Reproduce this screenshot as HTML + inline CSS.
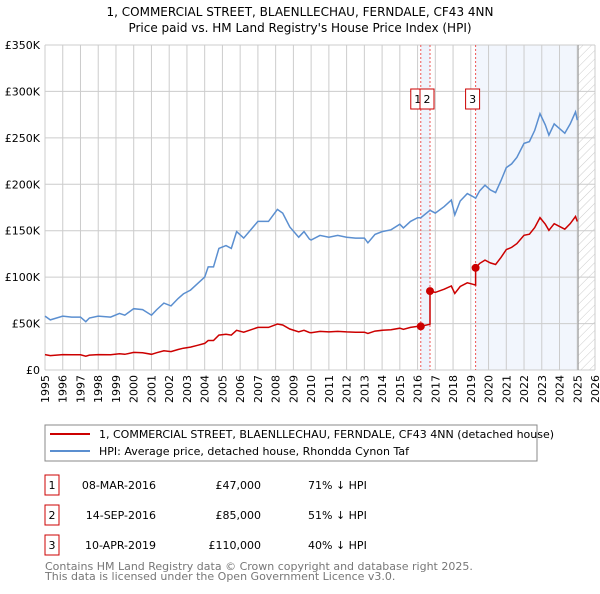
<!DOCTYPE html>
<html><head><meta charset="utf-8"><style>
body{margin:0;background:#fff;font-family:"DejaVu Sans","Liberation Sans",sans-serif;}
svg text{font-family:"DejaVu Sans","Liberation Sans",sans-serif;}
</style></head><body>
<svg id="c" width="600" height="590" viewBox="0 0 600 590" xmlns="http://www.w3.org/2000/svg">
<defs><pattern id="hatch" width="6" height="6" patternUnits="userSpaceOnUse" patternTransform="rotate(45)"><line x1="0" y1="0" x2="0" y2="6" stroke="#ccc" stroke-width="1"/></pattern></defs>
<text x="300" y="16" text-anchor="middle" font-size="12">1, COMMERCIAL STREET, BLAENLLECHAU, FERNDALE, CF43 4NN</text>
<text x="300" y="32" text-anchor="middle" font-size="12">Price paid vs. HM Land Registry's House Price Index (HPI)</text>
<g id="plot"></g>
<rect x="45" y="425" width="492" height="36" fill="#fff" stroke="#888"/>
<line x1="50" y1="434" x2="90" y2="434" stroke="#cc0000" stroke-width="2"/>
<text x="99" y="438" font-size="11">1, COMMERCIAL STREET, BLAENLLECHAU, FERNDALE, CF43 4NN (detached house)</text>
<line x1="50" y1="451" x2="90" y2="451" stroke="#5b8fd0" stroke-width="2"/>
<text x="99" y="455" font-size="11">HPI: Average price, detached house, Rhondda Cynon Taf</text>
<g id="tbl" font-size="11"></g>
<text x="45" y="570" font-size="11" fill="#777">Contains HM Land Registry data © Crown copyright and database right 2025.</text>
<text x="45" y="580" font-size="11" fill="#777">This data is licensed under the Open Government Licence v3.0.</text>
</svg>
<script>
const hpiYears=[1995.0,1995.3,1996,1996.5,1997,1997.3,1997.5,1998,1998.7,1999.2,1999.5,2000,2000.5,2001,2001.3,2001.7,2002.1,2002.5,2002.8,2003.2,2003.6,2004,2004.2,2004.5,2004.8,2005.2,2005.5,2005.8,2006.2,2006.6,2007,2007.6,2008.1,2008.4,2008.8,2009.3,2009.6,2009.9,2010,2010.5,2011,2011.5,2012,2012.5,2013,2013.2,2013.6,2014,2014.5,2015,2015.2,2015.6,2016,2016.18,2016.7,2017,2017.5,2017.9,2018.1,2018.4,2018.8,2019.1,2019.27,2019.5,2019.8,2020.1,2020.4,2020.7,2021,2021.3,2021.6,2022,2022.3,2022.6,2022.9,2023.2,2023.4,2023.7,2024,2024.3,2024.6,2024.9,2025.0];
const hpiValues=[58,54,58,57,57,52,56,58,57,61,59,66,65,59,65,72,69,77,82,86,93,100,111,111,131,134,131,149,142,151,160,160,173,169,154,143,149,141,140,145,143,145,143,142,142,137,146,149,151,157,153,160,164,164,172,169,176,183,167,182,190,187,185,193,199,194,191,204,218,222,229,244,246,258,276,264,253,265,260,255,265,278,269];
const saleYears=[2016.18,2016.70,2019.27];
const salePrices=[47,85,110];
const saleLabels=["1","2","3"];
const saleDates=["08-MAR-2016","14-SEP-2016","10-APR-2019"];
const salePriceText=["£47,000","£85,000","£110,000"];
const saleDiff=["71% ↓ HPI","51% ↓ HPI","40% ↓ HPI"];
const yTicks=[0,50,100,150,200,250,300,350];
const yTickLabels=["£0","£50K","£100K","£150K","£200K","£250K","£300K","£350K"];
const xTicks=[1995,1996,1997,1998,1999,2000,2001,2002,2003,2004,2005,2006,2007,2008,2009,2010,2011,2012,2013,2014,2015,2016,2017,2018,2019,2020,2021,2022,2023,2024,2025,2026];
const dataEnd=2025.05;

const NS="http://www.w3.org/2000/svg";
const X0=45,X1=595,Y0=370,Y1=45;
const xs=y=>X0+(y-1995)/(2026-1995)*(X1-X0);
const ys=v=>Y0-v/350*(Y0-Y1);
function mk(tag,at,parent){const e=document.createElementNS(NS,tag);for(const k in at)e.setAttribute(k,at[k]);parent.appendChild(e);return e;}
const g=document.getElementById('plot');
function hpiAt(t){for(let i=1;i<hpiYears.length;i++){if(t<=hpiYears[i]){const f=(t-hpiYears[i-1])/(hpiYears[i]-hpiYears[i-1]);return hpiValues[i-1]+f*(hpiValues[i]-hpiValues[i-1]);}}return hpiValues[hpiValues.length-1];}
let r=mk('rect',{x:xs(saleYears[0]),y:Y1,width:xs(saleYears[1])-xs(saleYears[0]),height:Y0-Y1,fill:'#eef3fc'},g);

r=mk('rect',{x:xs(saleYears[2]),y:Y1,width:xs(dataEnd)-xs(saleYears[2]),height:Y0-Y1,fill:'#f2f6fd'},g);

r=mk('rect',{x:xs(dataEnd),y:Y1,width:X1-xs(dataEnd),height:Y0-Y1,fill:'url(#hatch)'},g);

xTicks.forEach(t=>{const l=mk('line',{x1:xs(t),x2:xs(t),y1:Y1,y2:Y0,stroke:'#ccc','stroke-width':1},g);

const tx=mk('text',{x:0,y:0,'font-size':11,'text-anchor':'end',transform:`translate(${xs(t)+4},${Y0+5}) rotate(-90)`},g);tx.textContent=t;
});
yTicks.forEach((v,i)=>{const l=mk('line',{x1:X0,x2:X1,y1:ys(v),y2:ys(v),stroke:'#ccc','stroke-width':1},g);

const tx=mk('text',{x:X0-5,y:ys(v)+4,'font-size':11,'text-anchor':'end'},g);tx.textContent=yTickLabels[i];
});
let el=mk('line',{x1:xs(dataEnd),x2:xs(dataEnd),y1:Y1,y2:Y0,stroke:'#999','stroke-width':1},g);

saleYears.forEach((t,i)=>{const l=mk('line',{x1:xs(t),x2:xs(t),y1:Y1,y2:Y0,stroke:'#e55','stroke-width':1,'stroke-dasharray':'2,2'},g);
});
let d=hpiYears.map((t,i)=>(i?'L':'M')+xs(t).toFixed(1)+','+ys(hpiValues[i]).toFixed(1)).join('');
el=mk('path',{d:d,fill:'none',stroke:'#5b8fd0','stroke-width':1.5},g);

function scaleFor(t){let k=-1;for(let i=0;i<saleYears.length;i++)if(t>=saleYears[i])k=i;if(k<0)k=0;return salePrices[k]/hpiAt(saleYears[k]);}
const pts=[];
hpiYears.forEach((t,i)=>{pts.push([t,hpiValues[i]*scaleFor(t)]);});
saleYears.forEach((t,i)=>{pts.push([t-0.001,hpiAt(t)*(i?salePrices[i-1]/hpiAt(saleYears[i-1]):salePrices[0]/hpiAt(saleYears[0]))]);pts.push([t,salePrices[i]]);});
pts.sort((a,b)=>a[0]-b[0]);
d=pts.map((p,i)=>(i?'L':'M')+xs(p[0]).toFixed(1)+','+ys(p[1]).toFixed(1)).join('');
el=mk('path',{d:d,fill:'none',stroke:'#cc0000','stroke-width':1.5},g);

saleYears.forEach((t,i)=>{const c=mk('circle',{cx:xs(t),cy:ys(salePrices[i]),r:4,fill:'#cc0000'},g);

const off=-3;
const bx=mk('rect',{x:xs(t)+off-7,y:89,width:14,height:20,fill:'#fff',stroke:'#cc0000'},g);

const tx=mk('text',{x:xs(t)+off,y:103,'font-size':11,'text-anchor':'middle'},g);tx.textContent=saleLabels[i];
});
const tb=document.getElementById('tbl');
saleYears.forEach((t,i)=>{const y0=475+i*30;
const b=mk('rect',{x:45,y:y0,width:14,height:20,fill:'#fff',stroke:'#cc0000'},tb);

const cells=[[52,'middle',saleLabels[i]],[156,'end',saleDates[i]],[261,'end',salePriceText[i]],[308,'start',saleDiff[i]]];
const nm=['table-row-number','table-row-date','table-row-price','table-row-hpi-diff'];
cells.forEach((c,j)=>{const tx=mk('text',{x:c[0],y:y0+14,'text-anchor':c[1]},tb);tx.textContent=c[2];
});});
</script>
</body></html>
